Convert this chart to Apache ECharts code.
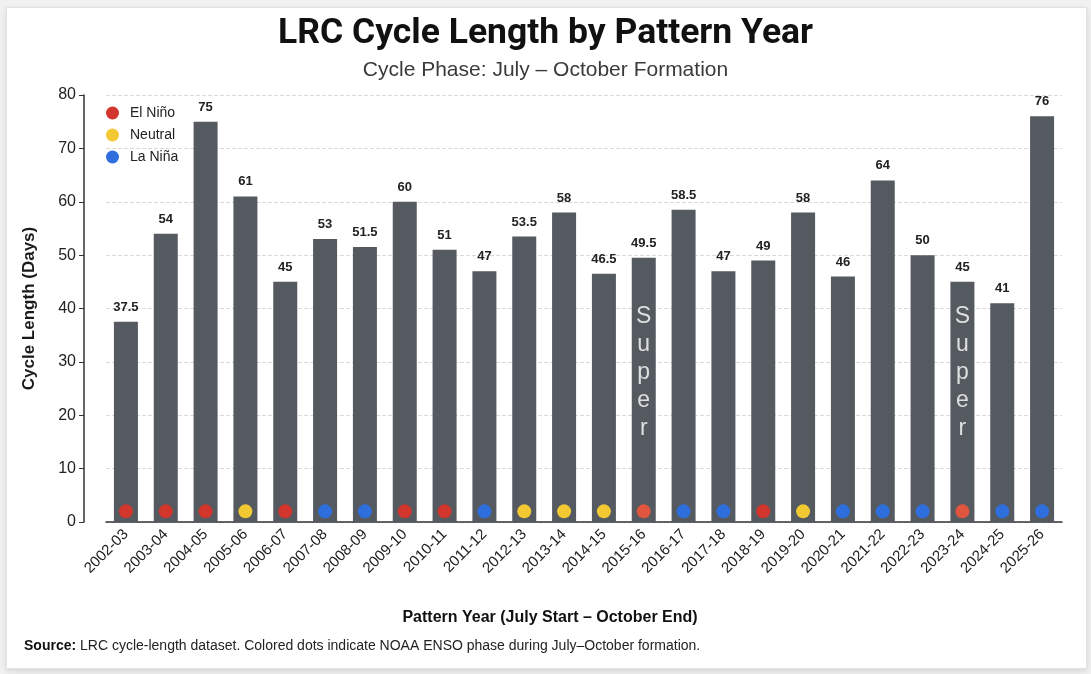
<!DOCTYPE html>
<html>
<head>
<meta charset="utf-8">
<script src="https://cdn.jsdelivr.net/npm/echarts@6/dist/echarts.min.js"></script>
<style>
  html, body { margin: 0; padding: 0; background: #f1f1f1; }
  #card { position: absolute; left: 6px; top: 7px; width: 1079px; height: 660px; background: #fff;
          border: 1px solid #e2e2e2; box-shadow: 0 2px 6px rgba(0,0,0,0.12); }
  #chart { position: absolute; left: 0; top: 0; width: 1091px; height: 674px; }
</style>
</head>
<body>
<div id="card"></div>
<div id="chart"></div>
<script>
// pattern years and cycle lengths (days)
var years = ['2002-03','2003-04','2004-05','2005-06','2006-07','2007-08','2008-09','2009-10',
  '2010-11','2011-12','2012-13','2013-14','2014-15','2015-16','2016-17','2017-18','2018-19',
  '2019-20','2020-21','2021-22','2022-23','2023-24','2024-25','2025-26'];
var cycleDays = [37.5, 54, 75, 61, 45, 53, 51.5, 60, 51, 47, 53.5, 58, 46.5, 49.5, 58.5, 47, 49,
  58, 46, 64, 50, 45, 41, 76];
// ENSO phase during July-October: E = El Nino, N = Neutral, L = La Nina
var phase = ['E','E','E','N','E','L','L','E','E','L','N','N','N','E','L','L','E','N','L','L','L','E','L','L'];
var superYears = ['2015-16', '2023-24'];
var dotLevel = 2;
var superLevel = 28;

var phaseNames = { E: 'El Niño', N: 'Neutral', L: 'La Niña' };
var phaseColors = { E: '#d2352b', N: '#f2c932', L: '#2e6fdd' };
var superColor = '#e0553d';

function dotSeries(code) {
  return {
    name: phaseNames[code],
    type: 'scatter',
    symbolSize: 14,
    itemStyle: { color: phaseColors[code], opacity: 1 },
    z: 5,
    data: years.map(function (y, i) {
      if (phase[i] !== code) return '-';
      if (superYears.indexOf(y) >= 0) return { value: dotLevel, itemStyle: { color: superColor } };
      return dotLevel;
    })
  };
}

var chart = echarts.init(document.getElementById('chart'));
var font = '"Liberation Sans", Arial, sans-serif';

chart.setOption({
  backgroundColor: 'transparent',
  textStyle: { fontFamily: font },
  title: [
    {
      text: 'LRC Cycle Length by Pattern Year',
      left: 'center', top: 11,
      textStyle: { fontSize: 35.5, fontWeight: 'bold', color: '#111', fontFamily: 'Roboto, sans-serif' }
    },
    {
      text: 'Cycle Phase: July – October Formation',
      left: 'center', top: 55,
      textStyle: { fontSize: 21, fontWeight: 'normal', color: '#3a3a3a', fontFamily: font }
    },
    {
      text: '{b|Source:} LRC cycle-length dataset. Colored dots indicate NOAA ENSO phase during July–October formation.',
      left: 19, top: 634,
      textStyle: {
        fontSize: 14, fontWeight: 'normal', color: '#222', fontFamily: font,
        rich: { b: { fontSize: 14, fontWeight: 'bold', color: '#111', fontFamily: font } }
      }
    }
  ],
  legend: {
    data: ['El Niño', 'Neutral', 'La Niña'],
    orient: 'vertical',
    left: 101, top: 101,
    itemWidth: 13, itemHeight: 13, itemGap: 8,
    icon: 'circle',
    textStyle: { fontSize: 14, color: '#222', padding: [0, 0, 0, 6] }
  },
  grid: { left: 106, right: 29, top: 95, bottom: 152 },
  xAxis: {
    type: 'category',
    data: years,
    name: 'Pattern Year (July Start – October End)',
    nameLocation: 'middle',
    nameGap: 88,
    nameTextStyle: { fontSize: 16, fontWeight: 'bold', color: '#111', padding: [0, 68, 0, 0] },
    axisLine: { lineStyle: { color: '#333', width: 1.5 } },
    axisTick: { alignWithLabel: true, length: 5, lineStyle: { color: '#333' } },
    axisLabel: { rotate: 45, fontSize: 15, color: '#222', margin: 10 }
  },
  yAxis: {
    type: 'value',
    min: 0, max: 80, interval: 10,
    offset: 22,
    name: 'Cycle Length (Days)',
    nameLocation: 'middle',
    nameGap: 46,
    nameTextStyle: { fontSize: 17, fontWeight: 'bold', color: '#1a1a1a' },
    axisLine: { show: true, lineStyle: { color: '#333', width: 1.5 } },
    axisTick: { show: true, length: 5, lineStyle: { color: '#333' } },
    axisLabel: { fontSize: 16, color: '#222', margin: 8 },
    splitLine: { lineStyle: { type: 'dashed', color: '#d9d9d9' } }
  },
  series: [
    {
      name: 'Cycle Length',
      type: 'bar',
      data: cycleDays,
      barWidth: 24,
      itemStyle: { color: '#555a60' },
      label: { show: true, position: 'top', fontSize: 13, fontWeight: 'bold', color: '#222', distance: 8 }
    },
    dotSeries('E'),
    dotSeries('N'),
    dotSeries('L'),
    {
      name: 'Super',
      type: 'scatter',
      symbolSize: 0,
      z: 6,
      silent: true,
      data: years.map(function (y) { return superYears.indexOf(y) >= 0 ? superLevel : '-'; }),
      label: {
        show: true, position: 'inside',
        formatter: 'S\nu\np\ne\nr',
        fontSize: 23, lineHeight: 28, color: '#fff', fontFamily: font
      }
    }
  ]
});
</script>
</body>
</html>
